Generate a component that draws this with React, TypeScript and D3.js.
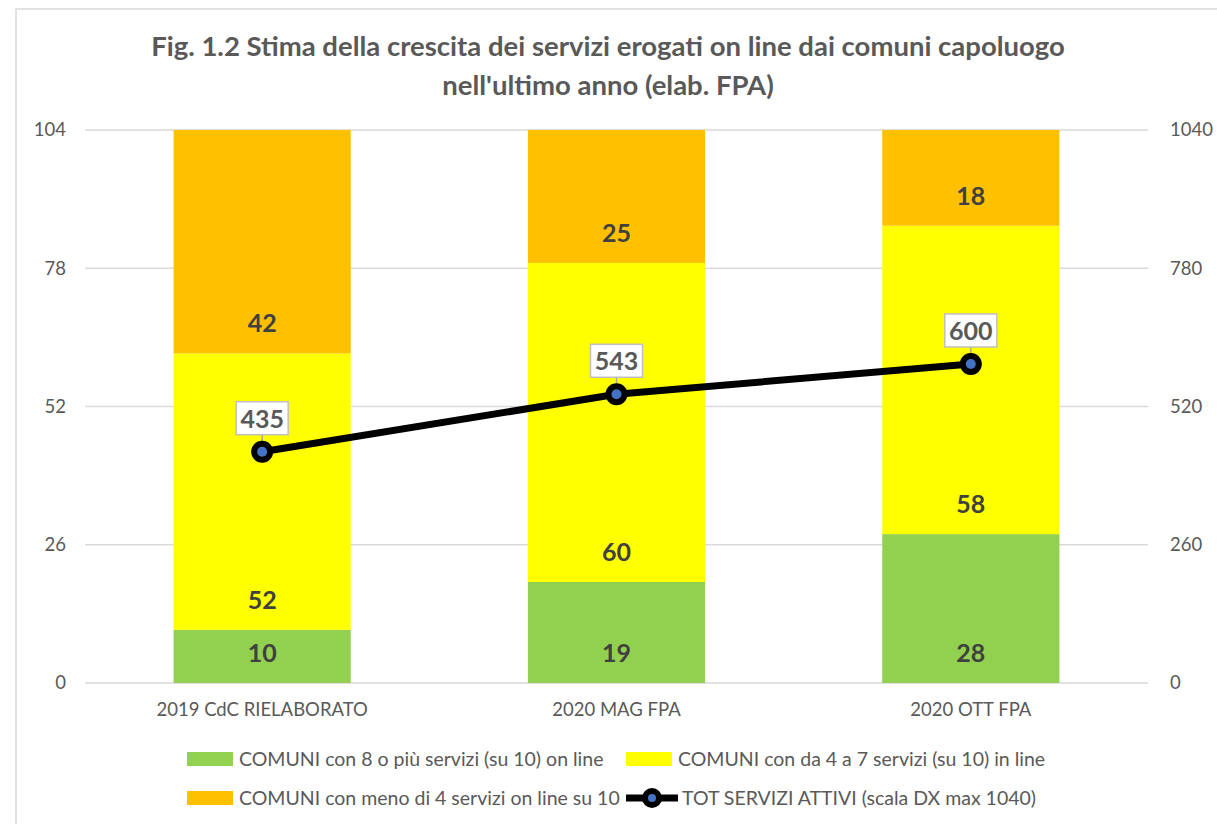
import React, { useEffect, useRef } from 'react';
import * as d3 from 'd3';

const categories = ['2019 CdC RIELABORATO', '2020 MAG FPA', '2020 OTT FPA'];
const green = [10, 19, 28];
const yellow = [52, 60, 58];
const orange = [42, 25, 18];
const totServizi = [435, 543, 600];
const leftTicks = [0, 26, 52, 78, 104];
const rightTicks = [0, 260, 520, 780, 1040];

const seriesNames = [
  'COMUNI con 8 o più servizi (su 10) on line',
  'COMUNI con da 4 a 7 servizi (su 10) in line',
  'COMUNI con meno di 4 servizi on line su 10',
  'TOT SERVIZI ATTIVI (scala DX max 1040)',
];
const colors = ['#92d050', '#ffff00', '#ffc000'];

const W = 1217;
const H = 824;
const FONT = 'Lato, "Open Sans", sans-serif';

const Chart = () => {
  const ref = useRef<SVGSVGElement>(null);

  useEffect(() => {
    const svg = d3.select(ref.current);
    svg.selectAll('*').remove();

    const margin = { top: 130, right: 69, bottom: 141, left: 85 };
    const x = d3.scaleBand<string>()
      .domain(categories)
      .range([margin.left, W - margin.right])
      .paddingInner(0.5)
      .paddingOuter(0.25);
    const y = d3.scaleLinear().domain([0, 104]).range([H - margin.bottom, margin.top]);
    const y2 = d3.scaleLinear().domain([0, 1040]).range([H - margin.bottom, margin.top]);

    // frame
    svg.append('rect')
      .attr('x', 16).attr('y', 9).attr('width', W).attr('height', H)
      .attr('fill', '#fff').attr('stroke', '#d9d9d9').attr('stroke-width', 1.5);

    // title
    const title = svg.append('text')
      .attr('text-anchor', 'middle')
      .attr('font-family', FONT).attr('font-weight', 700).attr('font-size', 27.5)
      .attr('fill', '#595959');
    title.append('tspan').attr('x', 608).attr('y', 56)
      .text('Fig. 1.2 Stima della crescita dei servizi erogati on line dai comuni capoluogo');
    title.append('tspan').attr('x', 608).attr('y', 95)
      .text("nell'ultimo anno (elab. FPA)");

    // grid
    svg.append('g')
      .selectAll('line')
      .data(leftTicks)
      .join('line')
      .attr('x1', margin.left).attr('x2', W - margin.right)
      .attr('y1', d => y(d)).attr('y2', d => y(d))
      .attr('stroke', '#d9d9d9').attr('stroke-width', 1.5);

    const styleTicks = (g: any) => g.selectAll('text')
      .attr('font-family', FONT).attr('font-size', 18.5).attr('fill', '#595959');

    // left axis
    svg.append('g')
      .attr('transform', `translate(${margin.left},0)`)
      .call(d3.axisLeft(y).tickValues(leftTicks).tickSize(0).tickPadding(19))
      .call((g: any) => g.select('.domain').remove())
      .call(styleTicks);

    // right axis
    svg.append('g')
      .attr('transform', `translate(${W - margin.right},0)`)
      .call(d3.axisRight(y2).tickValues(rightTicks).tickFormat(d3.format('d')).tickSize(0).tickPadding(22))
      .call((g: any) => g.select('.domain').remove())
      .call(styleTicks);

    // x axis
    svg.append('g')
      .attr('transform', `translate(0,${H - margin.bottom})`)
      .call(d3.axisBottom(x).tickSize(0).tickPadding(20))
      .call((g: any) => g.select('.domain').remove())
      .call(styleTicks);

    // stacked bars
    const rows = categories.map((c, i) => ({ cat: c, g: green[i], y: yellow[i], o: orange[i] }));
    const stack = d3.stack<any>().keys(['g', 'y', 'o'])(rows);
    const layers = svg.append('g')
      .selectAll('g')
      .data(stack)
      .join('g')
      .attr('fill', (_d, i) => colors[i]);
    layers.selectAll('rect')
      .data(d => d)
      .join('rect')
      .attr('x', (d: any) => x(d.data.cat)!)
      .attr('width', x.bandwidth())
      .attr('y', (d: any) => y(d[1]))
      .attr('height', (d: any) => y(d[0]) - y(d[1]));

    // bar labels (inside base)
    stack.forEach(layer => {
      svg.append('g')
        .selectAll('text')
        .data(layer)
        .join('text')
        .attr('x', (d: any) => x(d.data.cat)! + x.bandwidth() / 2)
        .attr('y', (d: any) => y(d[0]) - 21)
        .attr('text-anchor', 'middle')
        .attr('font-family', FONT).attr('font-weight', 700).attr('font-size', 25)
        .attr('fill', '#404040')
        .text((d: any) => d[1] - d[0]);
    });

    // line
    const pts = categories.map((c, i) => ({ cat: c, v: totServizi[i] }));
    const line = d3.line<any>()
      .x(d => x(d.cat)! + x.bandwidth() / 2)
      .y(d => y2(d.v));
    svg.append('path')
      .datum(pts)
      .attr('fill', 'none')
      .attr('stroke', '#000')
      .attr('stroke-width', 7)
      .attr('stroke-linejoin', 'round')
      .attr('d', line);

    // line labels
    const lbl = svg.append('g')
      .selectAll('g')
      .data(pts)
      .join('g')
      .attr('transform', d => `translate(${x(d.cat)! + x.bandwidth() / 2},${y2(d.v)})`);
    lbl.append('line')
      .attr('x1', 0).attr('x2', 0).attr('y1', -17).attr('y2', 0)
      .attr('stroke', '#a6a6a6').attr('stroke-width', 1.5);
    lbl.append('rect')
      .attr('x', -26).attr('y', -50).attr('width', 52).attr('height', 33)
      .attr('fill', '#fff').attr('stroke', '#bfbfbf').attr('stroke-width', 1.5);
    lbl.append('text')
      .attr('y', -24)
      .attr('text-anchor', 'middle')
      .attr('font-family', FONT).attr('font-weight', 700).attr('font-size', 25)
      .attr('fill', '#595959')
      .text(d => d.v);

    // markers
    const mk = svg.append('g')
      .selectAll('g')
      .data(pts)
      .join('g')
      .attr('transform', d => `translate(${x(d.cat)! + x.bandwidth() / 2},${y2(d.v)})`);
    mk.append('circle').attr('r', 11).attr('fill', '#000');
    mk.append('circle').attr('r', 5).attr('fill', '#4472c4');

    // legend
    const leg = svg.append('g')
      .attr('font-family', FONT).attr('font-size', 19.5).attr('fill', '#595959');
    const items = [
      { x: 187, y: 759, i: 0 },
      { x: 626, y: 759, i: 1 },
      { x: 187, y: 798, i: 2 },
    ];
    items.forEach(it => {
      leg.append('rect')
        .attr('x', it.x).attr('y', it.y - 7).attr('width', 46).attr('height', 14)
        .attr('fill', colors[it.i]);
      leg.append('text')
        .attr('x', it.x + 52).attr('y', it.y).attr('dy', '0.35em')
        .text(seriesNames[it.i]);
    });
    leg.append('line')
      .attr('x1', 626).attr('x2', 678).attr('y1', 798).attr('y2', 798)
      .attr('stroke', '#000').attr('stroke-width', 7);
    leg.append('circle').attr('cx', 652).attr('cy', 798).attr('r', 10).attr('fill', '#000');
    leg.append('circle').attr('cx', 652).attr('cy', 798).attr('r', 4).attr('fill', '#4472c4');
    leg.append('text')
      .attr('x', 682).attr('y', 798).attr('dy', '0.35em')
      .text(seriesNames[3]);
  }, []);

  return <svg ref={ref} width={W} height={H} style={{ position: 'absolute', left: 0, top: 0 }} />;
};

export default function App() {
  return <Chart />;
}
